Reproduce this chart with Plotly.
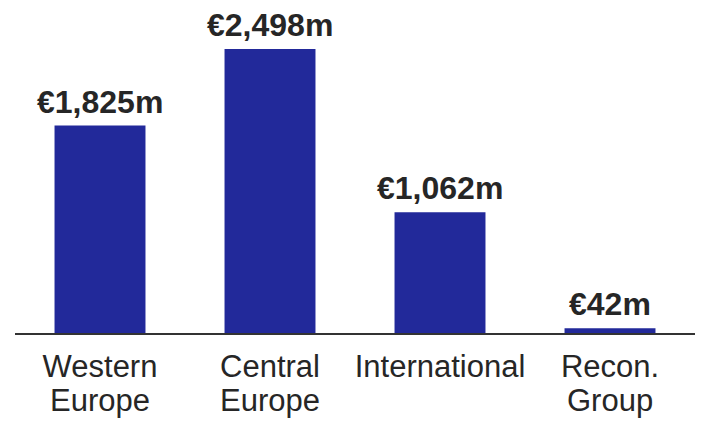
import plotly.graph_objects as go

categories = ["Western Europe", "Central Europe", "International", "Recon. Group"]
line1 = ["Western", "Central", "International", "Recon."]
line2 = ["Europe", "Europe", "", "Group"]
values = [1825, 2498, 1062, 42]
labels = ["€1,825m", "€2,498m", "€1,062m", "€42m"]

bar_color = "#22299a"
text_color = "#262626"
font_family = "Liberation Sans, Arial"

fig = go.Figure(go.Bar(
    x=categories, y=values,
    marker=dict(color=bar_color, line=dict(width=0)),
    hoverinfo="skip",
))

# value labels above bars
for cat, val, lab in zip(categories, values, labels):
    fig.add_annotation(x=cat, y=val, xref="x", yref="y", yanchor="bottom",
                       yshift=4, text=lab, showarrow=False,
                       font=dict(family=font_family, size=32, color=text_color, weight="bold"))

# second line of the category labels (kept tight like the source slide)
for cat, txt in zip(categories, line2):
    if txt:
        fig.add_annotation(x=cat, xref="x", y=0, yref="paper", yanchor="top",
                           yshift=-48, text=txt, showarrow=False,
                           font=dict(family=font_family, size=31, color=text_color))

fig.update_layout(
    width=702, height=421,
    margin=dict(l=15, r=7, t=0, b=88, autoexpand=False),
    paper_bgcolor="white", plot_bgcolor="white",
    bargap=0.465, showlegend=False,
    font=dict(family=font_family, color=text_color),
)
fig.update_xaxes(showline=True, linecolor="#333333", linewidth=2, ticks="",
                 tickvals=categories, ticktext=line1, automargin=False,
                 ticklabelstandoff=5,
                 tickfont=dict(size=31, color=text_color), showgrid=False)
fig.update_yaxes(range=[0, 2929], visible=False, showgrid=False)

fig.write_html("out.html", config={"displayModeBar": False},
               post_script="document.body.style.margin='0';")
